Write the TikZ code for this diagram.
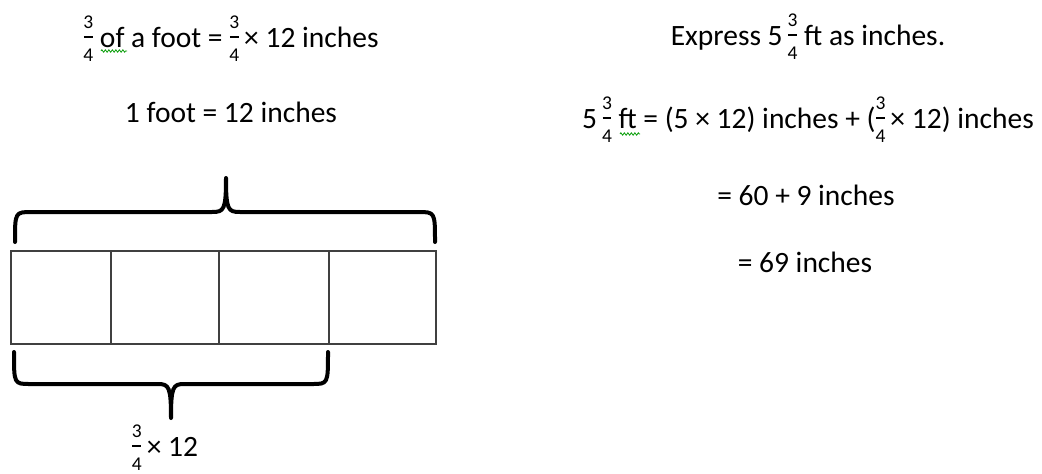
\documentclass[tikz,border=0pt]{standalone}
\usepackage{fontspec}
\setmainfont{Carlito}
\usetikzlibrary{decorations.pathmorphing}
\newcommand{\myfrac}[2]{\leavevmode\hbox{\fontsize{19.5}{19.5}\selectfont
 \setbox0\hbox{#1}\setbox2\hbox{#2}%
 \dimen0=\ifdim\wd0>\wd2 \wd0\else\wd2\fi
 \rlap{\raise19pt\hbox to\dimen0{\hss\box0\hss}}%
 \rlap{\lower14.5pt\hbox to\dimen0{\hss\box2\hss}}%
 \rlap{\hbox to\dimen0{\hss\vrule width 0.9\dimen0 height 11.2pt depth -9.2pt\hss}}%
 \kern\dimen0}}
\tikzset{
  txt/.style={font=\fontsize{29.5}{34}\selectfont, text=black, inner sep=0pt, anchor=base},
  cell/.style={draw=black!75, line width=1.6pt, minimum height=93pt, inner sep=0pt, anchor=north west},
  brace/.style={draw=black, line width=4pt, line cap=round, line join=round},
  squiggle/.style={draw=green!60!black, line width=0.8pt, decorate, decoration={zigzag, segment length=3.5pt, amplitude=1.2pt}}
}
\begin{document}
\begin{tikzpicture}[x=1pt,y=-1pt]
\useasboundingbox (0,0) rectangle (1042,474);
% left texts
\node[txt] (t1) at (231,47) {\myfrac{3}{4} of a foot = \myfrac{3}{4}\,× 12 inches};
\node[txt] (t2) at (231,122) {1 foot = 12 inches};
% right texts
\node[txt] (r1) at (808,45) {Express 5\,\myfrac{3}{4} ft as inches.};
\node[txt] (r2) at (808,128) {5\,\myfrac{3}{4} ft = (5 × 12) inches + (\myfrac{3}{4}\,× 12) inches};
\node[txt] (r3) at (806,205) {= 60 + 9 inches};
\node[txt] (r4) at (805,272) {= 69 inches};
% spell-check squiggles
\coordinate (s1a) at (101,51); \coordinate (s1b) at (127,51);
\draw[squiggle] (s1a) -- (s1b);
\coordinate (s2a) at (620,134); \coordinate (s2b) at (640,134);
\draw[squiggle] (s2a) -- (s2b);
% bar cells
\node[cell, minimum width=100pt] (c1) at (10,250) {};
\node[cell, minimum width=108pt] (c2) at (110,250) {};
\node[cell, minimum width=110pt] (c3) at (218,250) {};
\node[cell, minimum width=107pt] (c4) at (328,250) {};
% top brace
\draw[brace] (15,242) .. controls (15,212) and (15,212) .. (32,212) -- (212,212)
  .. controls (224,212) and (226,210) .. (226,178)
  .. controls (226,210) and (228,212) .. (240,212) -- (418,212)
  .. controls (435,212) and (435,212) .. (435,242);
% bottom brace
\draw[brace] (14,352) .. controls (14,384) and (14,384) .. (30,384) -- (158,384)
  .. controls (169,384) and (171,387) .. (171,418)
  .. controls (171,387) and (173,384) .. (184,384) -- (312,384)
  .. controls (328,384) and (328,384) .. (328,352);
\node[txt] (b1) at (165,456) {\myfrac{3}{4}\,× 12};
\end{tikzpicture}
\end{document}
